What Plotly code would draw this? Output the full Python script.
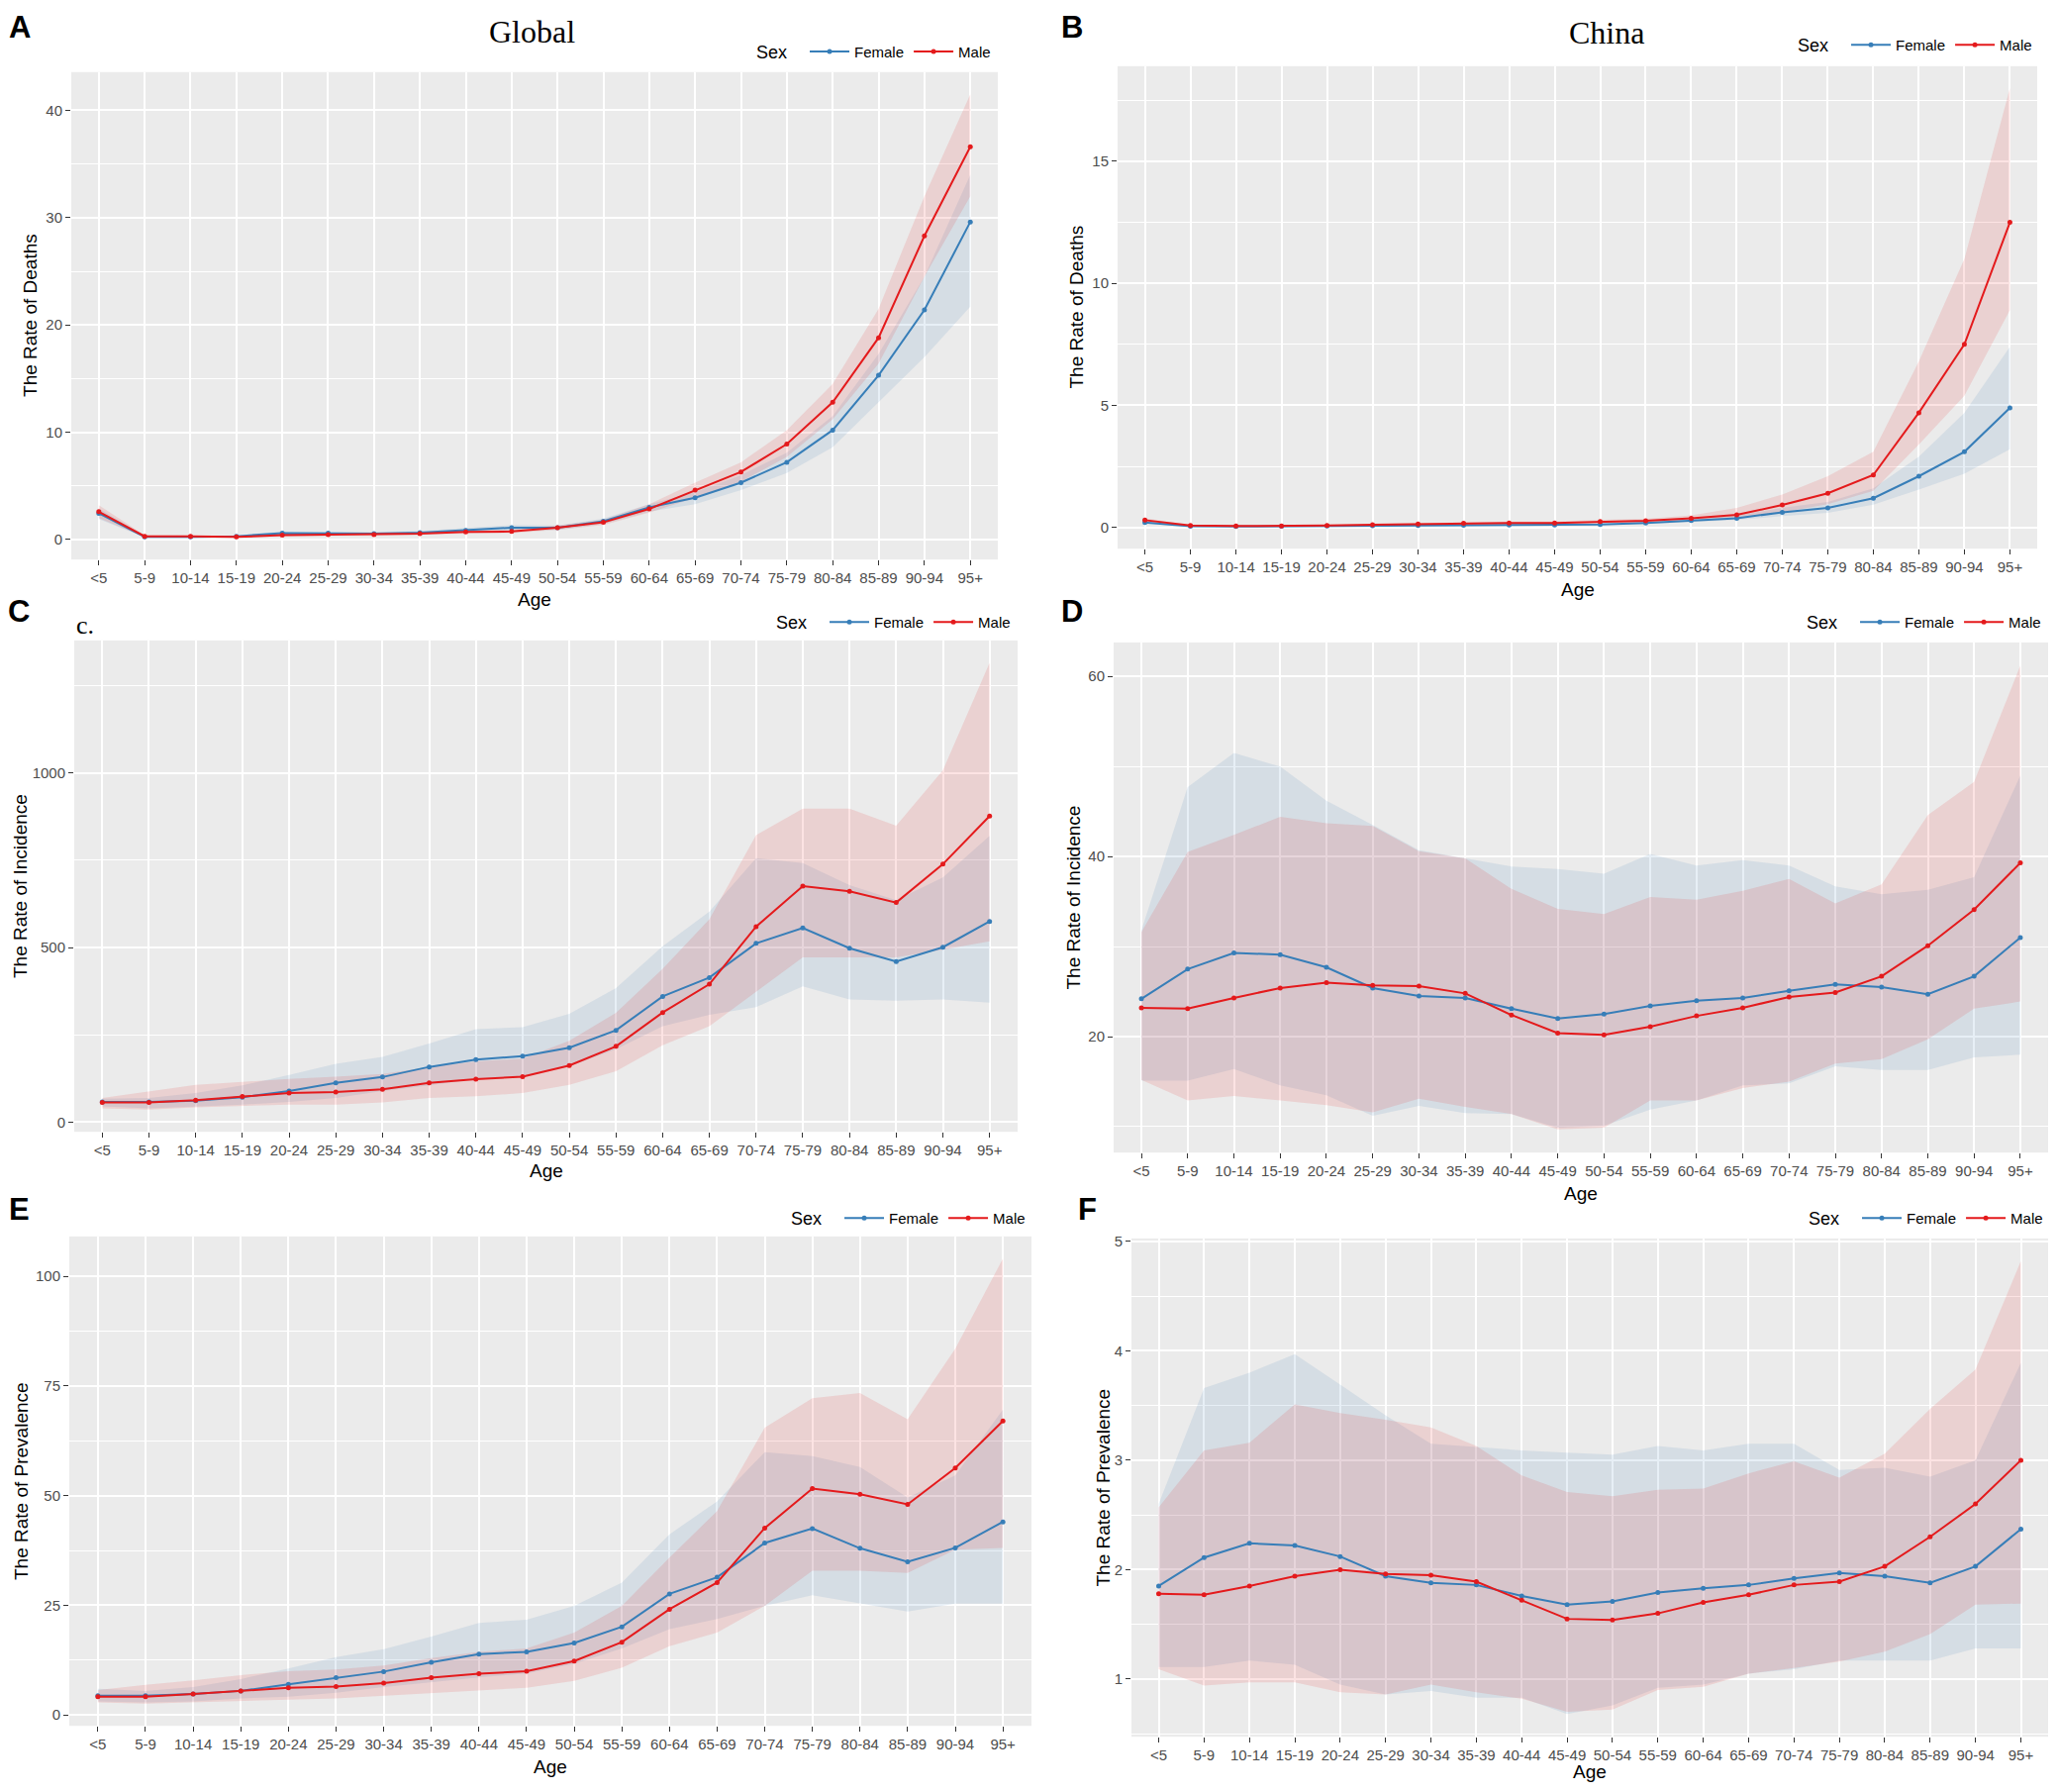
import plotly.graph_objects as go

# page has an 8 px body margin; figure sized to fit inside the window
OFF = 8
W, H = 2079 - 2 * OFF, 1810 - 2 * OFF

ages = ['<5', '5-9', '10-14', '15-19', '20-24', '25-29', '30-34', '35-39', '40-44', '45-49',
        '50-54', '55-59', '60-64', '65-69', '70-74', '75-79', '80-84', '85-89', '90-94', '95+']

# Panel A: Global deaths
a_female = [2.45, 0.25, 0.25, 0.3, 0.6, 0.6, 0.55, 0.65, 0.85, 1.1, 1.1, 1.7, 3.0, 3.9, 5.3, 7.2, 10.2, 15.3, 21.4, 29.6]
a_female_lo = [1.9, 0.2, 0.2, 0.22, 0.45, 0.45, 0.42, 0.5, 0.65, 0.85, 0.9, 1.45, 2.6, 3.3, 4.6, 6.2, 8.6, 12.8, 17.0, 21.7]
a_female_hi = [2.9, 0.32, 0.3, 0.38, 0.75, 0.75, 0.7, 0.8, 1.05, 1.35, 1.3, 1.95, 3.3, 4.4, 6.0, 8.1, 11.5, 17.3, 24.5, 34.0]
a_male = [2.6, 0.3, 0.3, 0.25, 0.4, 0.45, 0.45, 0.55, 0.7, 0.75, 1.1, 1.6, 2.85, 4.6, 6.3, 8.9, 12.8, 18.8, 28.3, 36.6]
a_male_lo = [2.0, 0.22, 0.22, 0.2, 0.3, 0.35, 0.35, 0.42, 0.55, 0.6, 0.9, 1.35, 2.5, 3.9, 5.4, 7.7, 11.2, 16.4, 24.5, 32.0]
a_male_hi = [3.2, 0.4, 0.38, 0.32, 0.5, 0.55, 0.55, 0.68, 0.85, 0.92, 1.3, 1.85, 3.3, 5.3, 7.2, 10.2, 14.5, 21.5, 32.0, 41.5]

# Panel B: China deaths
b_female = [0.2, 0.05, 0.04, 0.05, 0.06, 0.07, 0.08, 0.09, 0.1, 0.1, 0.12, 0.18, 0.28, 0.38, 0.62, 0.8, 1.2, 2.1, 3.1, 4.9]
b_female_lo = [0.15, 0.04, 0.03, 0.04, 0.05, 0.05, 0.06, 0.07, 0.08, 0.08, 0.09, 0.14, 0.22, 0.3, 0.47, 0.6, 0.93, 1.55, 2.2, 3.2]
b_female_hi = [0.25, 0.06, 0.05, 0.06, 0.08, 0.09, 0.1, 0.11, 0.13, 0.13, 0.15, 0.23, 0.36, 0.5, 0.8, 1.05, 1.6, 2.9, 4.7, 7.4]
b_male = [0.3, 0.08, 0.06, 0.06, 0.08, 0.11, 0.14, 0.17, 0.18, 0.18, 0.24, 0.27, 0.38, 0.52, 0.92, 1.4, 2.15, 4.7, 7.5, 12.5]
b_male_lo = [0.22, 0.06, 0.05, 0.05, 0.06, 0.08, 0.1, 0.12, 0.13, 0.13, 0.18, 0.2, 0.28, 0.38, 0.62, 0.95, 1.5, 3.4, 5.4, 8.9]
b_male_hi = [0.38, 0.1, 0.08, 0.08, 0.1, 0.14, 0.18, 0.22, 0.24, 0.24, 0.32, 0.36, 0.5, 0.8, 1.35, 2.1, 3.1, 6.8, 11.0, 18.0]

# Panel C: Global incidence
c_female = [58, 58, 61, 71, 89, 112, 129, 158, 179, 189, 213, 263, 360, 414, 512, 556, 498, 460, 501, 575]
c_female_lo = [45, 39, 45, 50, 58, 69, 89, 105, 124, 132, 160, 209, 275, 307, 329, 389, 351, 348, 351, 342]
c_female_hi = [67, 69, 83, 105, 135, 167, 187, 225, 266, 272, 310, 384, 504, 603, 756, 742, 679, 636, 701, 820]
c_male = [56, 56, 63, 73, 83, 86, 94, 112, 123, 130, 162, 217, 314, 395, 560, 676, 661, 629, 739, 877]
c_male_lo = [39, 36, 42, 47, 50, 50, 56, 69, 74, 83, 107, 146, 220, 275, 373, 472, 472, 472, 494, 518]
c_male_hi = [69, 89, 107, 115, 124, 130, 138, 158, 174, 182, 233, 313, 439, 581, 822, 898, 898, 849, 1008, 1316]

# Panel D: China incidence
d_female = [24.2, 27.5, 29.3, 29.1, 27.7, 25.4, 24.5, 24.3, 23.1, 22.0, 22.5, 23.4, 24.0, 24.3, 25.1, 25.8, 25.5, 24.7, 26.7, 31.0]
d_female_lo = [15.1, 15.1, 16.4, 14.6, 13.5, 11.2, 12.3, 11.5, 11.4, 9.9, 10.1, 11.9, 12.9, 14.6, 14.8, 16.7, 16.3, 16.3, 17.7, 18.0]
d_female_hi = [31.8, 47.7, 51.5, 50.0, 46.2, 43.5, 40.7, 39.8, 38.9, 38.6, 38.1, 40.3, 39.0, 39.6, 39.0, 36.7, 35.8, 36.3, 37.7, 49.0]
d_male = [23.2, 23.1, 24.3, 25.4, 26.0, 25.7, 25.6, 24.8, 22.4, 20.4, 20.2, 21.1, 22.3, 23.2, 24.4, 24.9, 26.7, 30.1, 34.1, 39.3]
d_male_lo = [15.2, 12.9, 13.4, 12.9, 12.4, 11.6, 13.1, 12.2, 11.4, 9.7, 9.9, 12.9, 12.9, 14.3, 15.0, 17.0, 17.5, 19.7, 23.1, 23.9]
d_male_hi = [31.6, 40.5, 42.4, 44.4, 43.7, 43.4, 40.6, 39.8, 36.4, 34.2, 33.6, 35.5, 35.2, 36.2, 37.5, 34.8, 36.9, 44.6, 48.3, 61.2]

# Panel E: Global prevalence
e_female = [4.4, 4.4, 4.8, 5.5, 7.0, 8.5, 9.9, 12.0, 13.9, 14.4, 16.4, 20.1, 27.6, 31.4, 39.2, 42.5, 38.0, 34.9, 38.1, 44.0]
e_female_lo = [3.1, 2.9, 3.1, 3.8, 4.2, 5.1, 6.4, 7.5, 8.6, 9.5, 11.7, 15.2, 19.6, 21.9, 24.9, 27.3, 25.4, 23.6, 25.4, 25.4]
e_female_hi = [6.0, 5.5, 6.4, 8.2, 10.6, 13.2, 15.0, 17.9, 21.0, 21.7, 24.9, 30.2, 41.2, 48.7, 59.9, 59.0, 56.5, 49.6, 54.6, 69.6]
e_male = [4.2, 4.2, 4.8, 5.5, 6.2, 6.5, 7.3, 8.5, 9.4, 10.0, 12.3, 16.6, 24.1, 30.2, 42.6, 51.6, 50.3, 48.0, 56.3, 67.0]
e_male_lo = [2.9, 2.6, 2.9, 3.2, 3.5, 3.8, 4.4, 5.1, 5.6, 6.2, 7.8, 10.8, 15.7, 18.8, 24.9, 32.9, 32.9, 32.4, 37.7, 38.1]
e_male_hi = [5.7, 6.9, 7.9, 9.1, 10.0, 10.4, 11.3, 13.0, 14.4, 15.2, 18.8, 24.9, 35.9, 46.5, 65.5, 72.2, 73.4, 67.4, 83.5, 104.0]

# Panel F: China prevalence
f_female = [1.85, 2.11, 2.24, 2.22, 2.12, 1.94, 1.88, 1.86, 1.76, 1.68, 1.71, 1.79, 1.83, 1.86, 1.92, 1.97, 1.94, 1.88, 2.03, 2.37]
f_female_lo = [1.11, 1.11, 1.17, 1.13, 0.95, 0.86, 0.89, 0.83, 0.83, 0.68, 0.76, 0.92, 0.95, 1.05, 1.09, 1.17, 1.17, 1.17, 1.28, 1.28]
f_female_hi = [2.6, 3.66, 3.8, 3.97, 3.69, 3.41, 3.15, 3.12, 3.09, 3.07, 3.05, 3.13, 3.09, 3.15, 3.15, 2.91, 2.93, 2.85, 3.0, 3.89]
f_male = [1.78, 1.77, 1.85, 1.94, 2.0, 1.96, 1.95, 1.89, 1.72, 1.55, 1.54, 1.6, 1.7, 1.77, 1.86, 1.89, 2.03, 2.3, 2.6, 3.0]
f_male_lo = [1.09, 0.94, 0.97, 0.97, 0.88, 0.86, 0.95, 0.88, 0.82, 0.70, 0.72, 0.90, 0.93, 1.05, 1.10, 1.16, 1.25, 1.41, 1.68, 1.69]
f_male_hi = [2.57, 3.09, 3.16, 3.51, 3.43, 3.37, 3.30, 3.13, 2.86, 2.71, 2.67, 2.73, 2.74, 2.88, 2.99, 2.84, 3.06, 3.47, 3.83, 4.82]

y_titles = ['The Rate of Deaths', 'The Rate of Deaths', 'The Rate of Incidence',
            'The Rate of Incidence', 'The Rate of Prevalence', 'The Rate of Prevalence']
panel_letters = ['A', 'B', 'C', 'D', 'E', 'F']
y_dticks = [10, 5, 500, 20, 25, 1]

panels = [
    (a_female, a_female_lo, a_female_hi, a_male, a_male_lo, a_male_hi),
    (b_female, b_female_lo, b_female_hi, b_male, b_male_lo, b_male_hi),
    (c_female, c_female_lo, c_female_hi, c_male, c_male_lo, c_male_hi),
    (d_female, d_female_lo, d_female_hi, d_male, d_male_lo, d_male_hi),
    (e_female, e_female_lo, e_female_hi, e_male, e_male_lo, e_male_hi),
    (f_female, f_female_lo, f_female_hi, f_male, f_male_lo, f_male_hi),
]

# layout geometry in window pixels: (left, right, top, bottom)
boxes = [
    (72, 1008, 67, 561),
    (1129, 2058, 61, 550),
    (75, 1028, 643, 1141),
    (1125, 2069, 645, 1162),
    (70, 1042, 1247, 1743),
    (1143, 2069, 1249, 1754),
]
legend_pos = [(1006, 47), (2058, 40), (1026, 625), (2067, 625), (1041, 1229), (2069, 1229)]
ytitle_x = [31, 1088, 20, 1085, 21, 1115]
xtitle_y = [601, 591, 1180, 1203, 1784, 1789]
letter_pos = [(20, 22), (1083, 22), (19, 614), (1083, 614), (19, 1220), (1099, 1220)]

BLUE = '#377EB8'
RED = '#E41A1C'
BLUE_FILL = 'rgba(55,126,184,0.12)'
RED_FILL = 'rgba(228,26,28,0.12)'
SANS = 'Liberation Sans, Arial, sans-serif'
SERIF = 'Liberation Serif, Times New Roman, serif'


def px(x):
    return (x - OFF) / W


def py(y):
    return 1 - (y - OFF) / H


fig = go.Figure()
annotations = []
layout = {}

for i, (fm, flo, fhi, mm, mlo, mhi) in enumerate(panels):
    n = i + 1
    xa = 'x' if n == 1 else f'x{n}'
    ya = 'y' if n == 1 else f'y{n}'
    lg = 'legend' if n == 1 else f'legend{n}'
    for lo, hi, col in ((flo, fhi, BLUE_FILL), (mlo, mhi, RED_FILL)):
        fig.add_trace(go.Scatter(
            x=ages + ages[::-1], y=hi + lo[::-1], xaxis=xa, yaxis=ya,
            fill='toself', fillcolor=col, line=dict(width=0), mode='lines',
            showlegend=False, hoverinfo='skip'))
    for vals, col, name in ((fm, BLUE, 'Female'), (mm, RED, 'Male')):
        fig.add_trace(go.Scatter(
            x=ages, y=vals, xaxis=xa, yaxis=ya, mode='lines+markers', name=name,
            line=dict(color=col, width=2), marker=dict(color=col, size=5),
            legend=lg, showlegend=True))

    allv = fm + flo + fhi + mm + mlo + mhi
    lo_v, hi_v = min(allv), max(allv)
    pad = 0.05 * (hi_v - lo_v)
    l, r, t, b = boxes[i]
    dt = y_dticks[i]
    layout['xaxis' if n == 1 else f'xaxis{n}'] = dict(
        domain=[px(l), px(r)], anchor=ya, type='category', range=[-0.6, 19.6],
        showgrid=True, gridcolor='white', gridwidth=1.6, zeroline=False, showline=False,
        ticks='outside', ticklen=5, tickwidth=1.2, tickcolor='#333333',
        tickfont=dict(family=SANS, size=15, color='#4D4D4D'), tickangle=0)
    layout['yaxis' if n == 1 else f'yaxis{n}'] = dict(
        domain=[py(b), py(t)], anchor=xa, range=[lo_v - pad, hi_v + pad],
        dtick=dt, tick0=0, showgrid=True, gridcolor='white', gridwidth=1.6,
        zeroline=False, showline=False, ticks='outside', ticklen=5, tickwidth=1.2,
        tickcolor='#333333', tickfont=dict(family=SANS, size=15, color='#4D4D4D'),
        minor=dict(dtick=dt / 2, tick0=0, showgrid=True, gridcolor='white', gridwidth=0.8,
                   ticks=''))
    lx, lyy = legend_pos[i]
    layout[lg] = dict(
        x=px(lx), y=py(lyy), xanchor='right', yanchor='middle', orientation='h',
        bgcolor='rgba(0,0,0,0)', font=dict(family=SANS, size=15, color='black'),
        title=dict(text='Sex  ', font=dict(family=SANS, size=18, color='black')),
        itemwidth=40, tracegroupgap=0)

    cy = (t + b) / 2
    annotations.append(dict(
        x=px(ytitle_x[i]), y=py(cy), xref='paper', yref='paper', text=y_titles[i],
        textangle=-90, showarrow=False, xanchor='center', yanchor='middle',
        font=dict(family=SANS, size=19, color='black')))
    annotations.append(dict(
        x=px((l + r) / 2), y=py(xtitle_y[i]), xref='paper', yref='paper', text='Age',
        showarrow=False, xanchor='center', yanchor='middle',
        font=dict(family=SANS, size=19, color='black')))
    lxp, lyp = letter_pos[i]
    annotations.append(dict(
        x=px(lxp), y=py(lyp), xref='paper', yref='paper', text=panel_letters[i],
        showarrow=False, xanchor='center', yanchor='middle',
        font=dict(family=SANS, size=31, color='black', weight='bold')))

annotations.append(dict(x=px(537), y=py(26), xref='paper', yref='paper', text='Global',
                        showarrow=False, xanchor='center', yanchor='middle',
                        font=dict(family=SERIF, size=32, color='black')))
annotations.append(dict(x=px(1623), y=py(27), xref='paper', yref='paper', text='China',
                        showarrow=False, xanchor='center', yanchor='middle',
                        font=dict(family=SERIF, size=32, color='black')))
annotations.append(dict(x=px(75), y=py(628), xref='paper', yref='paper', text='c.',
                        showarrow=False, xanchor='left', yanchor='middle',
                        font=dict(family=SERIF, size=26, color='black')))

fig.update_layout(
    width=W, height=H, margin=dict(l=0, r=0, t=0, b=0),
    paper_bgcolor='white', plot_bgcolor='#EBEBEB',
    annotations=annotations, hovermode=False, **layout)

fig.write_html('out.html')
